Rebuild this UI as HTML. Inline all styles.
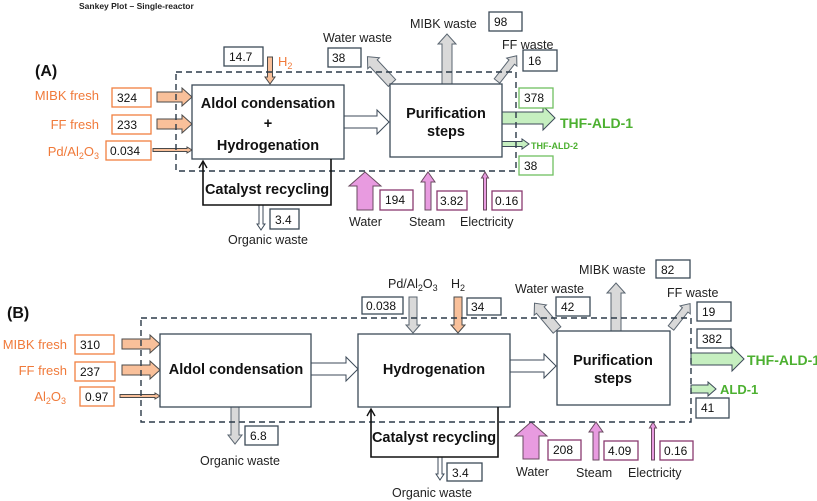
<!DOCTYPE html>
<html><head><meta charset="utf-8"><style>
html,body{margin:0;padding:0;background:#fff;}
svg{display:block;font-family:"Liberation Sans",Arial,sans-serif;}
.b{fill:#fff;stroke:#3c4a58;stroke-width:1.3}
.ob{fill:#fff;stroke:#f08040;stroke-width:1.3}
.gb{fill:#fff;stroke:#70c060;stroke-width:1.3}
.pb{fill:#fff;stroke:#8a3a70;stroke-width:1.3}
.n{font-size:12px;fill:#111}
.o{font-size:13px;fill:#f07a3a}
.l{font-size:12.5px;fill:#222}
.t{font-size:14.5px;font-weight:bold;fill:#111}
.g{font-weight:bold;fill:#4cb030}
</style></head><body>
<svg id="s" width="817" height="501" viewBox="0 0 817 501" xmlns="http://www.w3.org/2000/svg">
<g id="arrows"></g>
<text x="79" y="9" font-size="8.5" font-weight="bold" fill="#222">Sankey Plot – Single-reactor</text>
<!-- Panel A -->
<text x="35" y="76" font-size="16" font-weight="bold" fill="#111">(A)</text>
<rect x="176" y="72" width="340" height="99" fill="none" stroke="#2c3a48" stroke-width="1.4" stroke-dasharray="6,4"/>
<rect class="b" x="192" y="85" width="152" height="74"/>
<text class="t" x="268" y="108" text-anchor="middle">Aldol condensation</text>
<text class="t" x="268" y="128" text-anchor="middle">+</text>
<text class="t" x="268" y="150" text-anchor="middle">Hydrogenation</text>
<path d="M203,162 L203,205 L331,205 L331,159" fill="none" stroke="#111" stroke-width="1.6"/>
<path d="M199,168 L203,161 L207,168" fill="none" stroke="#111" stroke-width="1.4"/>
<text class="t" x="267" y="194" text-anchor="middle">Catalyst recycling</text>
<rect class="b" x="270" y="209" width="29" height="20"/><text class="n" x="275" y="224">3.4</text>
<text class="l" x="268" y="244" text-anchor="middle">Organic waste</text>
<rect class="b" x="224" y="47" width="39" height="19"/><text class="n" x="229" y="61">14.7</text>
<text class="o" x="278" y="66">H<tspan font-size="9" dy="3">2</tspan></text>
<text class="l" x="323" y="42">Water waste</text>
<rect class="b" x="328" y="48" width="33" height="19"/><text class="n" x="332" y="62">38</text>
<text class="o" x="99" y="100" text-anchor="end">MIBK fresh</text>
<rect class="ob" x="112" y="88" width="39" height="19"/><text class="n" x="117" y="102">324</text>
<text class="o" x="99" y="129" text-anchor="end">FF fresh</text>
<rect class="ob" x="112" y="115" width="39" height="19"/><text class="n" x="117" y="129">233</text>
<text class="o" x="99" y="156" text-anchor="end">Pd/Al<tspan font-size="9" dy="3">2</tspan><tspan dy="-3">O</tspan><tspan font-size="9" dy="3">3</tspan></text>
<rect class="ob" x="106" y="141" width="45" height="19"/><text class="n" x="110" y="155">0.034</text>
<rect class="b" x="390" y="84" width="112" height="73"/>
<text class="t" x="446" y="118" text-anchor="middle">Purification</text>
<text class="t" x="446" y="136" text-anchor="middle">steps</text>
<text class="l" x="410" y="28">MIBK waste</text>
<rect class="b" x="489" y="12" width="33" height="19"/><text class="n" x="494" y="26">98</text>
<text class="l" x="502" y="49">FF waste</text>
<rect class="b" x="523" y="50" width="34" height="21"/><text class="n" x="528" y="65">16</text>
<rect class="gb" x="519" y="88" width="34" height="20"/><text class="n" x="524" y="102">378</text>
<text class="g" x="560" y="128" font-size="14">THF-ALD-1</text>
<text class="g" x="531" y="149" font-size="9">THF-ALD-2</text>
<rect class="gb" x="519" y="156" width="34" height="19"/><text class="n" x="524" y="170">38</text>
<rect class="pb" x="380" y="190" width="33" height="20"/><text class="n" x="385" y="204">194</text>
<rect class="pb" x="437" y="191" width="30" height="19"/><text class="n" x="440" y="205">3.82</text>
<rect class="pb" x="492" y="191" width="30" height="19"/><text class="n" x="495" y="205">0.16</text>
<text class="l" x="349" y="226">Water</text>
<text class="l" x="409" y="226">Steam</text>
<text class="l" x="460" y="226">Electricity</text>
<!-- Panel B -->
<text x="7" y="318" font-size="16" font-weight="bold" fill="#111">(B)</text>
<rect x="141" y="318" width="550" height="104" fill="none" stroke="#2c3a48" stroke-width="1.4" stroke-dasharray="6,4"/>
<rect class="b" x="160" y="334" width="151" height="73"/>
<text class="t" x="236" y="374" text-anchor="middle">Aldol condensation</text>
<rect class="b" x="358" y="334" width="152" height="73"/>
<text class="t" x="434" y="374" text-anchor="middle">Hydrogenation</text>
<path d="M371,410 L371,457 L498,457 L498,407" fill="none" stroke="#111" stroke-width="1.6"/>
<path d="M367,416 L371,409 L375,416" fill="none" stroke="#111" stroke-width="1.4"/>
<text class="t" x="434" y="442" text-anchor="middle">Catalyst recycling</text>
<rect class="b" x="557" y="331" width="113" height="74"/>
<text class="t" x="613" y="365" text-anchor="middle">Purification</text>
<text class="t" x="613" y="383" text-anchor="middle">steps</text>
<text class="o" x="67" y="349" text-anchor="end">MIBK fresh</text>
<rect class="ob" x="75" y="335" width="39" height="19"/><text class="n" x="80" y="349">310</text>
<text class="o" x="67" y="375" text-anchor="end">FF fresh</text>
<rect class="ob" x="75" y="362" width="40" height="19"/><text class="n" x="80" y="376">237</text>
<text class="o" x="66" y="401" text-anchor="end">Al<tspan font-size="9" dy="3">2</tspan><tspan dy="-3">O</tspan><tspan font-size="9" dy="3">3</tspan></text>
<rect class="ob" x="80" y="387" width="34" height="19"/><text class="n" x="85" y="401">0.97</text>
<rect class="b" x="245" y="426" width="33" height="19"/><text class="n" x="250" y="440">6.8</text>
<text class="l" x="240" y="465" text-anchor="middle">Organic waste</text>
<text class="l" x="388" y="288">Pd/Al<tspan font-size="9" dy="3">2</tspan><tspan dy="-3">O</tspan><tspan font-size="9" dy="3">3</tspan></text>
<text class="l" x="451" y="288">H<tspan font-size="9" dy="3">2</tspan></text>
<rect class="b" x="362" y="297" width="41" height="17"/><text class="n" x="366" y="310">0.038</text>
<rect class="b" x="467" y="298" width="34" height="17"/><text class="n" x="471" y="311">34</text>
<rect class="b" x="447" y="463" width="35" height="18"/><text class="n" x="452" y="477">3.4</text>
<text class="l" x="432" y="497" text-anchor="middle">Organic waste</text>
<text class="l" x="515" y="293">Water waste</text>
<rect class="b" x="556" y="297" width="34" height="19"/><text class="n" x="561" y="311">42</text>
<text class="l" x="579" y="274">MIBK waste</text>
<rect class="b" x="656" y="260" width="34" height="18"/><text class="n" x="661" y="274">82</text>
<text class="l" x="667" y="297">FF waste</text>
<rect class="b" x="697" y="302" width="34" height="19"/><text class="n" x="702" y="316">19</text>
<rect class="b" x="697" y="329" width="34" height="19"/><text class="n" x="702" y="343">382</text>
<text class="g" x="747" y="365" font-size="14">THF-ALD-1</text>
<text class="g" x="720" y="394" font-size="13">ALD-1</text>
<rect class="b" x="696" y="398" width="33" height="20"/><text class="n" x="701" y="412">41</text>
<rect class="pb" x="548" y="440" width="33" height="20"/><text class="n" x="553" y="454">208</text>
<rect class="pb" x="604" y="441" width="34" height="19"/><text class="n" x="608" y="455">4.09</text>
<rect class="pb" x="660" y="441" width="33" height="19"/><text class="n" x="664" y="455">0.16</text>
<text class="l" x="516" y="476">Water</text>
<text class="l" x="576" y="477">Steam</text>
<text class="l" x="628" y="477">Electricity</text>
</svg>
<script>
var G=document.getElementById('arrows'),h='';
var C={o:['#f9c09a','#4a4a4a'],g:['#d9d9d9','#5a6570'],p:['#e89be0','#6a4a60'],w:['#fff','#3c4a58'],gr:['#c6efc0','#3c4a58']};
function A(x,y,a,L,w,hh,hl,c){var p=[[0,-w],[L-hl,-w],[L-hl,-hh],[L,0],[L-hl,hh],[L-hl,w],[0,w]].map(function(q){return q.join(',')}).join(' ');
h+='<polygon transform="translate('+x+','+y+') rotate('+a+')" points="'+p+'" fill="'+C[c][0]+'" stroke="'+C[c][1]+'" stroke-width="1"/>';}
A(157,97,0,35,5,9,10,'o');A(157,124,0,35,5,9,10,'o');A(153,150,0,39,1.5,3,5,'o');
A(270,57,90,27,2.5,5,7,'o');
A(344,122,0,45,6,12,12,'w');
A(392,83,-133,36,5,8,9,'g');
A(447,84,-90,50,5,9,10,'g');
A(497,81,-52,32,3.5,6.5,8,'g');
A(261,205,90,25,2,4,6,'w');
A(502,118,0,53,6,12,12,'gr');A(502,144,0,27,2.5,5,7,'gr');
A(365,210,-90,38,8,16,14,'p');A(428,210,-90,38,3,7,10,'p');A(485,210,-90,38,1.5,3.5,6,'p');
A(122,344,0,38,5,9,10,'o');A(122,370,0,38,5,9,10,'o');A(120,396,0,40,1.5,3,5,'o');
A(235,407,90,37,4,7,9,'g');
A(311,369,0,47,6,12,12,'w');
A(413,297,90,36,4,7,8,'g');A(458,297,90,36,4,7,8,'o');
A(440,457,90,23,2,4,6,'w');
A(510,366,0,46,6,12,12,'w');
A(557,330,-130,35,5,8,9,'g');
A(616,331,-90,48,5,9,10,'g');
A(671,328,-52,31,3.5,6.5,8,'g');
A(691,359,0,53,6,12,12,'gr');A(691,389,0,25,4,7,8,'gr');
A(531,459,-90,37,8,16,14,'p');A(596,460,-90,38,3,7,10,'p');A(653,460,-90,38,1.5,3.5,6,'p');
G.innerHTML=h;
</script>
</body></html>
